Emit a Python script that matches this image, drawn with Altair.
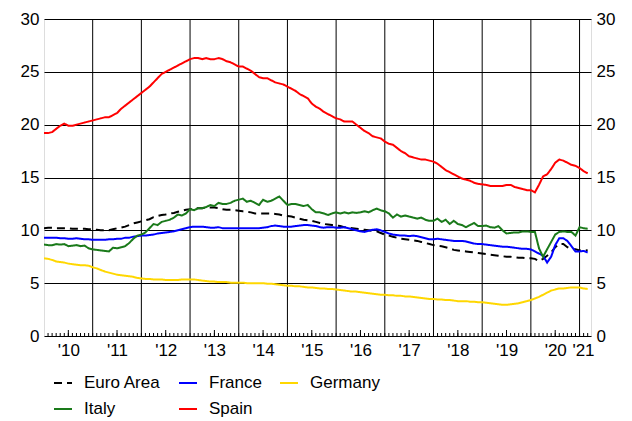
import altair as alt
import pandas as pd

START_YEAR = 2010  # first month: January 2010, monthly data to March 2021

countries = ["Euro Area", "France", "Germany", "Italy", "Spain"]
colors = ["#000000", "#0000ff", "#ffd700", "#1a7a1a", "#ff0000"]
dashes = [[8, 5], [1, 0], [1, 0], [1, 0], [1, 0]]

euro = [
    10.2, 10.25, 10.25, 10.2, 10.2, 10.2, 10.2, 10.15, 10.15, 10.15, 10.15, 10.1,
    10.1, 10.05, 10.0, 10.0, 10.0, 10.1, 10.2, 10.25, 10.35, 10.5, 10.65, 10.75,
    10.85, 10.95, 11.05, 11.25, 11.35, 11.45, 11.5, 11.6, 11.65, 11.75, 11.85, 11.95,
    12.0, 12.05, 12.1, 12.1, 12.15, 12.15, 12.15, 12.1, 12.0, 11.95, 11.95, 11.9,
    11.85, 11.8, 11.75, 11.7, 11.6, 11.6, 11.6, 11.6, 11.6, 11.55, 11.5, 11.4,
    11.35, 11.3, 11.2, 11.1, 11.0, 10.95, 10.9, 10.8, 10.7, 10.6, 10.55, 10.5,
    10.45, 10.4, 10.3, 10.25, 10.2, 10.15, 10.1, 10.05, 10.0, 9.95, 9.9, 9.75,
    9.6, 9.5, 9.4, 9.3, 9.2, 9.15, 9.1, 9.05, 9.0, 8.9, 8.8, 8.7,
    8.6, 8.55, 8.5, 8.4, 8.3, 8.15, 8.1, 8.05, 8.0, 7.95, 7.9, 7.85,
    7.8, 7.75, 7.7, 7.65, 7.6, 7.55, 7.5, 7.5, 7.45, 7.4, 7.4, 7.35,
    7.35, 7.3, 7.1, 7.3, 7.6, 7.9, 8.4, 8.7, 8.7, 8.4, 8.2, 8.2,
    8.1, 8.15, 8.1,
]
france = [
    9.3, 9.3, 9.3, 9.3, 9.25, 9.25, 9.2, 9.2, 9.25, 9.2, 9.15, 9.15,
    9.1, 9.1, 9.1, 9.1, 9.15, 9.15, 9.2, 9.2, 9.3, 9.3, 9.4, 9.45,
    9.5, 9.5, 9.55, 9.6, 9.7, 9.75, 9.8, 9.85, 9.9, 10.0, 10.1, 10.2,
    10.3, 10.35, 10.35, 10.35, 10.3, 10.25, 10.25, 10.3, 10.2, 10.2, 10.2, 10.2,
    10.2, 10.2, 10.2, 10.2, 10.2, 10.2, 10.25, 10.3, 10.4, 10.45, 10.4, 10.35,
    10.35, 10.35, 10.4, 10.45, 10.5, 10.5, 10.45, 10.4, 10.3, 10.25, 10.3, 10.3,
    10.25, 10.25, 10.3, 10.2, 10.1, 10.0, 9.9, 9.85, 9.95, 10.05, 10.1, 10.0,
    9.85, 9.7, 9.6, 9.55, 9.5, 9.5, 9.45, 9.5, 9.45, 9.35, 9.25, 9.15,
    9.15, 9.2, 9.15, 9.1, 9.05, 9.0, 9.0, 9.0, 8.95, 8.85, 8.75, 8.7,
    8.7, 8.65, 8.6, 8.55, 8.5, 8.45, 8.45, 8.4, 8.35, 8.3, 8.25, 8.25,
    8.2, 8.0, 7.8, 7.6, 6.95, 7.5, 8.6, 9.25, 9.25, 9.0, 8.5, 8.0,
    8.0, 8.05, 7.9,
]
germany = [
    7.35, 7.3, 7.2, 7.05, 7.0, 6.95, 6.85, 6.8, 6.75, 6.7, 6.7, 6.65,
    6.5, 6.4, 6.25, 6.1, 6.0, 5.9, 5.8, 5.75, 5.7, 5.65, 5.6, 5.5,
    5.45, 5.4, 5.4, 5.35, 5.35, 5.35, 5.3, 5.3, 5.3, 5.3, 5.35, 5.35,
    5.35, 5.35, 5.3, 5.25, 5.2, 5.15, 5.15, 5.1, 5.1, 5.1, 5.05, 5.05,
    5.05, 5.05, 5.0, 5.0, 5.0, 5.0, 5.0, 4.95, 4.95, 4.9, 4.85, 4.8,
    4.75, 4.75, 4.7, 4.7, 4.65, 4.6, 4.6, 4.55, 4.5, 4.5, 4.45, 4.45,
    4.4, 4.35, 4.3, 4.25, 4.2, 4.2, 4.15, 4.1, 4.05, 4.0, 3.95, 3.9,
    3.9, 3.85, 3.85, 3.8, 3.8, 3.75, 3.75, 3.7, 3.65, 3.6, 3.55, 3.5,
    3.5, 3.45, 3.45, 3.4, 3.4, 3.35, 3.3, 3.3, 3.3, 3.25, 3.25, 3.2,
    3.2, 3.15, 3.1, 3.05, 3.0, 2.95, 2.95, 3.0, 3.05, 3.1, 3.2, 3.3,
    3.4, 3.55, 3.7, 3.9, 4.1, 4.3, 4.4, 4.5, 4.5, 4.55, 4.6, 4.6,
    4.6, 4.5, 4.45,
]
italy = [
    8.65, 8.6, 8.6, 8.7, 8.65, 8.7, 8.5, 8.55, 8.6, 8.5, 8.55, 8.3,
    8.2, 8.15, 8.1, 8.05, 8.0, 8.35, 8.3, 8.4, 8.5, 8.8, 9.2, 9.5,
    9.6, 9.8, 10.2, 10.6, 10.5, 10.8, 10.9, 11.0, 11.2, 11.5, 11.4, 11.6,
    12.0, 11.9, 12.1, 12.1, 12.2, 12.4, 12.3, 12.6, 12.5, 12.5, 12.6, 12.8,
    12.9, 13.0, 12.7, 12.8, 12.6, 12.4, 12.9, 12.7, 12.8, 13.0, 13.2, 12.8,
    12.4, 12.5, 12.5, 12.4, 12.3, 12.4, 12.0, 11.7, 11.7, 11.6, 11.45, 11.6,
    11.7, 11.6, 11.7, 11.6, 11.7, 11.65, 11.7, 11.8, 11.7, 11.9, 12.05, 11.9,
    11.8, 11.6, 11.2, 11.5, 11.3, 11.4, 11.3, 11.2, 11.1, 11.2, 11.0, 10.9,
    10.9, 11.1, 10.8, 11.0, 10.6, 10.9, 10.6, 10.5, 10.3, 10.5, 10.7, 10.4,
    10.4, 10.45, 10.3, 10.25, 10.4, 10.0, 9.7, 9.75, 9.8, 9.8, 9.9, 9.9,
    9.85, 9.85, 8.3, 7.5, 8.2, 8.9, 9.6, 9.85, 9.9, 9.85, 9.85, 9.5,
    10.3, 10.2, 10.15,
]
spain = [
    19.2, 19.2, 19.3, 19.6, 19.9, 20.1, 19.9, 19.9, 20.0, 20.1, 20.2, 20.3,
    20.4, 20.5, 20.6, 20.7, 20.7, 20.9, 21.1, 21.5, 21.8, 22.1, 22.4, 22.7,
    23.0, 23.3, 23.6, 24.0, 24.4, 24.8, 25.0, 25.2, 25.4, 25.6, 25.8, 26.0,
    26.2, 26.3, 26.3, 26.2, 26.3, 26.2, 26.2, 26.3, 26.2, 26.0, 25.9, 25.7,
    25.5, 25.5, 25.3, 25.1, 24.8, 24.5, 24.4, 24.4, 24.2, 24.0, 23.9, 23.8,
    23.6, 23.4, 23.2, 22.9, 22.7, 22.5, 22.0, 21.7, 21.5, 21.2, 21.0, 20.8,
    20.6, 20.5, 20.3, 20.3, 20.3, 20.0, 19.7, 19.4, 19.2, 18.9, 18.8, 18.7,
    18.4, 18.2, 18.1, 17.8, 17.5, 17.3, 17.0, 16.9, 16.8, 16.7, 16.7, 16.6,
    16.5, 16.3, 16.0, 15.7, 15.5, 15.3, 15.1, 14.9, 14.8, 14.7, 14.5, 14.4,
    14.35, 14.3, 14.2, 14.2, 14.2, 14.2, 14.3, 14.3, 14.1, 14.0, 13.9, 13.8,
    13.8, 13.6, 14.3, 15.1, 15.3, 15.8, 16.4, 16.7, 16.6, 16.4, 16.2, 16.1,
    15.9, 15.6, 15.4,
]
series = [euro, france, germany, italy, spain]

y_ticks = [0, 5, 10, 15, 20, 25, 30]
grid_years = list(range(2011, 2022))
label_pos = [y + 0.5 for y in range(2010, 2021)] + [2021.07]

W, H = 547, 317
FONT = "Liberation Sans"

rows = []
for name, vals in zip(countries, series):
    for m, v in enumerate(vals):
        rows.append({"t": START_YEAR + m / 12, "country": name, "value": v})
df = pd.DataFrame(rows)

n_months = len(euro)
minor_df = pd.DataFrame({"t": [START_YEAR + k / 12 for k in range(1, n_months)]})
major_df = pd.DataFrame({"t": [y + 0.5 for y in range(2010, 2021)]})
grid_df = pd.DataFrame({"t": grid_years})
right_df = pd.DataFrame({"v": [0, 30]})

xscale = alt.Scale(domain=[2010, 2021.235], nice=False, zero=False)
yscale = alt.Scale(domain=[0, 30], nice=False)

xaxis = alt.Axis(
    values=label_pos, title=None, grid=False, ticks=False, domain=False,
    labelExpr="\"'\" + format(floor(datum.value) % 100, '02d')",
    labelFontSize=17, labelFont=FONT, labelColor="black", labelPadding=6,
    labelFlush=False, labelOverlap=False,
)
X = alt.X("t:Q", scale=xscale, axis=xaxis)

leg = alt.Legend(
    title=None, orient="none", legendX=9, legendY=354, columns=3,
    direction="horizontal",
    symbolType="stroke", symbolSize=324, symbolStrokeWidth=2,
    labelFontSize=17, labelFont=FONT, labelColor="black", labelOffset=11,
    columnPadding=14, rowPadding=8, padding=0, labelLimit=300,
)

vgrid = alt.Chart(grid_df).mark_rule(color="black", strokeWidth=1).encode(x=X)

lines = alt.Chart(df).mark_line(strokeWidth=2, clip=True).encode(
    x=X,
    y=alt.Y(
        "value:Q", scale=yscale,
        axis=alt.Axis(
            orient="left", values=y_ticks, title=None, grid=True, gridColor="black",
            gridOpacity=1, gridWidth=1, ticks=False, domain=False,
            labelFontSize=17, labelFont=FONT, labelColor="black", labelPadding=5,
        ),
    ),
    color=alt.Color("country:N", scale=alt.Scale(domain=countries, range=colors), legend=leg),
    strokeDash=alt.StrokeDash("country:N", scale=alt.Scale(domain=countries, range=dashes), legend=leg),
)

right_axis = alt.Chart(right_df).mark_point(opacity=0).encode(
    y=alt.Y(
        "v:Q", scale=yscale,
        axis=alt.Axis(
            orient="right", values=y_ticks, title=None, grid=False, ticks=False,
            domain=False, labelFontSize=17, labelFont=FONT, labelColor="black",
            labelPadding=5,
        ),
    )
)

minor = alt.Chart(minor_df).mark_rule(color="black", strokeWidth=1).encode(
    x=X, y=alt.value(H), y2=alt.value(H - 3),
)
major = alt.Chart(major_df).mark_rule(color="black", strokeWidth=1).encode(
    x=X, y=alt.value(H), y2=alt.value(H - 6),
)

chart = (
    alt.layer(vgrid, lines, right_axis, minor, major)
    .resolve_scale(y="independent")
    .properties(
        width=W, height=H,
        autosize=alt.AutoSizeParams(type="none"),
        padding={"left": 36, "top": 11, "right": 33, "bottom": 82},
    )
    .configure_view(stroke="black", strokeWidth=1)
    .configure(font=FONT, background="white")
)

chart.save("out.html", embed_options={"renderer": "svg", "actions": False})
